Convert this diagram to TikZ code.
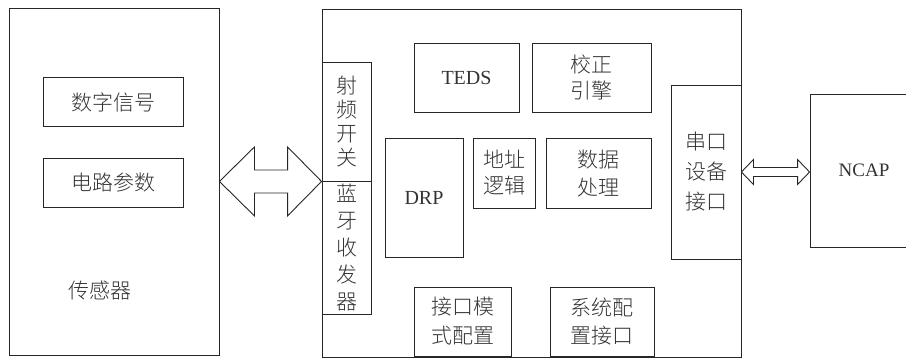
\documentclass[tikz,border=0pt]{standalone}
\usepackage{fontspec}
\setmainfont{Liberation Serif}
\newfontfamily\cjk{Noto Sans CJK SC Light}
\usetikzlibrary{calc}
\begin{document}
\begin{tikzpicture}[x=1pt,y=-1pt,
  blk/.style={draw=black!85, line width=0.9pt, inner sep=0pt, align=center, text=black!80},
  lbl/.style={inner sep=0pt, align=center, text=black!80},
  zh/.style={font=\cjk\fontsize{21}{26}\selectfont},
  en/.style={font=\fontsize{20}{24}\selectfont},
  fat/.style={draw=black!85, line width=0.9pt, line join=miter, fill=white}]
\useasboundingbox (0,0) rectangle (906,359);
% sensor side
\node[blk, minimum width=210pt, minimum height=347pt] (sensor) at (114,181.5) {};
\node[blk, zh, minimum width=140pt, minimum height=49pt] (dsig) at (113,102) {数字信号};
\node[blk, zh, minimum width=140pt, minimum height=49pt] (circ) at (113,183) {电路参数};
\node[lbl, zh] (senslbl) at (100,291) {传感器};
% STIM box
\node[blk, minimum width=419pt, minimum height=348pt] (stim) at (531.5,183) {};
\node[blk, font=\cjk\fontsize{21}{24}\selectfont, minimum width=49pt, minimum height=119pt] (rf) at (346.5,121.5) {射\\频\\开\\关};
\node[blk, font=\cjk\fontsize{21}{27}\selectfont, minimum width=49pt, minimum height=133pt] (bt) at (346.5,247.5) {蓝\\牙\\收\\发\\器};
\node[blk, en, minimum width=105pt, minimum height=69pt] (teds) at (466.5,77.5) {TEDS};
\node[blk, zh, minimum width=119pt, minimum height=69pt] (calib) at (591.5,77.5) {校正\\引擎};
\node[blk, en, minimum width=78pt, minimum height=119pt] (drp) at (424,197.5) {DRP};
\node[blk, zh, minimum width=62pt, minimum height=70pt] (addr) at (504,173) {地址\\逻辑};
\node[blk, font=\cjk\fontsize{21}{28}\selectfont, minimum width=105pt, minimum height=70pt] (data) at (598.5,173) {数据\\处理};
\node[blk, font=\cjk\fontsize{21}{29}\selectfont, minimum width=97pt, minimum height=69pt] (ifmode) at (462.5,321.5) {接口模\\式配置};
\node[blk, font=\cjk\fontsize{21}{28}\selectfont, minimum width=104pt, minimum height=69pt] (syscfg) at (602,321.5) {系统配\\置接口};
\node[blk, font=\cjk\fontsize{21}{30}\selectfont, minimum width=70pt, minimum height=174pt] (serial) at (706,172) {串口\\设备\\接口};
% NCAP
\node[blk, font=\fontsize{19}{23}\selectfont, minimum width=108pt, minimum height=153pt] (ncap) at (864,170.5) {NCAP};
% big double arrow
\coordinate (L) at (sensor.east |- rf.south);
\coordinate (R) at (rf.south west);
\draw[fat] (L) -- ($(L)+(35,-34.5)$) -- ($(L)+(35,-11.5)$) -- ($(R)+(-34,-11.5)$) -- ($(R)+(-34,-34.5)$) -- (R)
  -- ($(R)+(-34,34.5)$) -- ($(R)+(-34,11.5)$) -- ($(L)+(35,11.5)$) -- ($(L)+(35,34.5)$) -- cycle;
% small double arrow
\coordinate (L2) at (serial.east);
\coordinate (R2) at (ncap.west |- serial.east);
\draw[fat] (L2) -- ($(L2)+(12,-12.5)$) -- ($(L2)+(12,-4.5)$) -- ($(R2)+(-12,-4.5)$) -- ($(R2)+(-12,-12.5)$) -- (R2)
  -- ($(R2)+(-12,12.5)$) -- ($(R2)+(-12,4.5)$) -- ($(L2)+(12,4.5)$) -- ($(L2)+(12,12.5)$) -- cycle;
\end{tikzpicture}
\end{document}
